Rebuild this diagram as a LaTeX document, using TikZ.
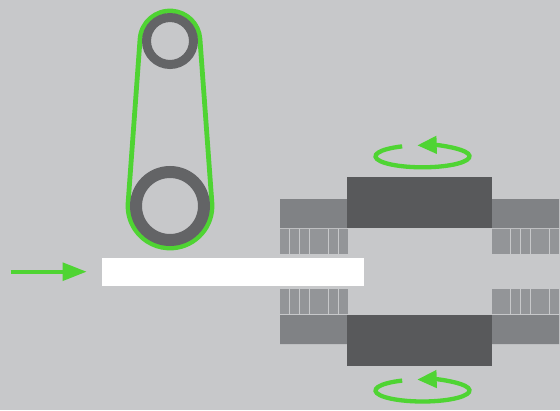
\documentclass[tikz,border=0pt]{standalone}
\usepackage{tikz}
\usetikzlibrary{arrows.meta,calc}
\definecolor{panelgrey}{HTML}{C7C8CA}
\definecolor{blockdark}{HTML}{58595B}
\definecolor{blockmid}{HTML}{808285}
\definecolor{barmid}{HTML}{939598}
\definecolor{ringgrey}{HTML}{636466}
\definecolor{beltgreen}{HTML}{4FD433}
\begin{document}
\begin{tikzpicture}[
  x=1pt, y=-1pt,
  belt/.style={draw=beltgreen, line width=4.8pt, line join=round},
  spin/.style={draw=beltgreen, line width=4.3pt, -{Triangle[length=19.5pt,width=17pt]}},
  feed/.style={draw=beltgreen, line width=4pt, -{Triangle[length=24pt,width=17.5pt]}},
  ring/.style={draw=ringgrey}]
  \fill[panelgrey] (0,0) rectangle (560,410);
  % rollers and belt
  \coordinate (toproller) at (170,41);
  \coordinate (botroller) at (170,206);
  \draw[belt] ($(toproller)+(184.17:30)$) arc[start angle=184.17, end angle=355.83, radius=30]
    -- ($(botroller)+(355.83:42)$) arc[start angle=355.83, end angle=544.17, radius=42] -- cycle;
  \draw[ring, line width=9pt] (toproller) circle[radius=23.5];
  \draw[ring, line width=12pt] (botroller) circle[radius=34];
  % feed
  \fill[white] (102,258) rectangle (364,286);
  \coordinate (feedstart) at (10.5,271.7);
  \coordinate (feedend) at (86.7,271.7);
  \draw[feed] (feedstart) -- (feedend);
  % upper and lower blocks
  \fill[blockmid] (280,199) rectangle (347,228) (492,199) rectangle (559,228);
  \fill[blockmid] (280,315) rectangle (347,344) (492,315) rectangle (559,344);
  \fill[blockdark] (347,177) rectangle (492,228);
  \fill[blockdark] (347,315) rectangle (492,366);
  \foreach \xa/\xb in {280/289,290/299,300/309,310/328,329/338,339/348,492/510,511/520,521/530,531/549,550/559} {
    \fill[barmid] (\xa,229) rectangle (\xb,254);
    \fill[barmid] (\xa,289) rectangle (\xb,314);
  }
  % rotation marks
  \foreach \cy in {156.3,390.5} {
    \draw[spin] ($(422.5,\cy)+(-115.6:47 and 11)$) arc[start angle=-115.6, end angle=-456.5, x radius=47, y radius=11];
  }
\end{tikzpicture}
\end{document}
